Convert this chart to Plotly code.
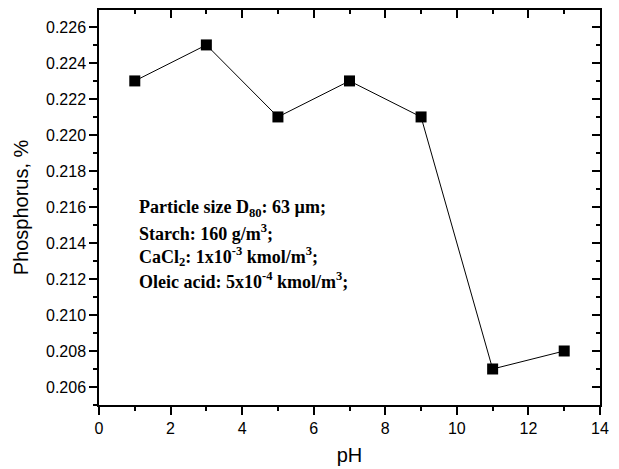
import plotly.graph_objects as go

ph = [1, 3, 5, 7, 9, 11, 13]
phosphorus = [0.223, 0.225, 0.221, 0.223, 0.221, 0.207, 0.208]
x_ticks = [0, 2, 4, 6, 8, 10, 12, 14]
y_ticks = [0.206, 0.208, 0.210, 0.212, 0.214, 0.216, 0.218, 0.220, 0.222, 0.224, 0.226]
notes = [
    "Particle size D<sub>80</sub>: 63 µm;",
    "Starch: 160 g/m<sup>3</sup>;",
    "CaCl<sub>2</sub>: 1x10<sup>-3</sup> kmol/m<sup>3</sup>;",
    "Oleic acid: 5x10<sup>-4</sup> kmol/m<sup>3</sup>;",
]

fig = go.Figure()
fig.add_trace(go.Scatter(
    x=ph, y=phosphorus, mode="lines+markers",
    line=dict(color="black", width=1),
    marker=dict(symbol="square", size=11, color="black"),
    showlegend=False, cliponaxis=False,
))
fig.add_trace(go.Scatter(x=ph, y=phosphorus, xaxis="x2", yaxis="y2",
                         mode="markers", marker=dict(opacity=0), showlegend=False,
                         hoverinfo="skip"))

font = dict(family="Liberation Sans, Arial", size=16, color="black")
xr = [0, 14]
yr = [0.205, 0.22694]
minor_in = dict(ticks="inside", ticklen=4, tickcolor="black", tickwidth=1.5, showgrid=False)
minor_out = dict(ticks="outside", ticklen=4, tickcolor="black", tickwidth=1.5, showgrid=False)

# page body has an 8px margin, so the figure is sized to fit the window
fig.update_layout(
    width=611, height=461,
    margin=dict(l=91, r=19, t=2, b=64),
    paper_bgcolor="white", plot_bgcolor="white",
    font=font,
    xaxis=dict(range=xr, tickvals=x_ticks, ticks="outside", ticklen=8, tickwidth=1.5,
               tickcolor="black", showline=True, linecolor="black", linewidth=1.5,
               showgrid=False, zeroline=False, automargin=False,
               minor=dict(dtick=1, **minor_out),
               title=dict(text="pH", font=dict(size=20), standoff=12)),
    yaxis=dict(range=yr, tickvals=y_ticks, tickformat=".3f", ticks="outside", ticklen=8,
               tickwidth=1.5, tickcolor="black", showline=True, linecolor="black", linewidth=1.5,
               showgrid=False, zeroline=False, automargin=False,
               minor=dict(dtick=0.001, tick0=0.205, **minor_out),
               title=dict(text="Phosphorus, %", font=dict(size=20), standoff=12)),
    xaxis2=dict(range=xr, overlaying="x", side="top", tickvals=x_ticks, ticks="inside",
                ticklen=8, tickwidth=1.5, tickcolor="black", showticklabels=False, showline=True,
                linecolor="black", linewidth=1.5, showgrid=False, zeroline=False, automargin=False,
                minor=dict(dtick=1, **minor_in)),
    yaxis2=dict(range=yr, overlaying="y", side="right", tickvals=y_ticks, ticks="inside",
                ticklen=8, tickwidth=1.5, tickcolor="black", showticklabels=False, showline=True,
                linecolor="black", linewidth=1.5, showgrid=False, zeroline=False, automargin=False,
                minor=dict(dtick=0.001, tick0=0.205, **minor_in)),
)

y0 = 0.21594
dy = 0.00134
for i, t in enumerate(notes):
    fig.add_annotation(x=1.06, y=y0 - i * dy, xref="x", yref="y", text="<b>" + t + "</b>",
                       showarrow=False, xanchor="left", yanchor="middle",
                       font=dict(family="Liberation Serif, Times New Roman", size=18, color="black"))

fig.write_html("out.html")
